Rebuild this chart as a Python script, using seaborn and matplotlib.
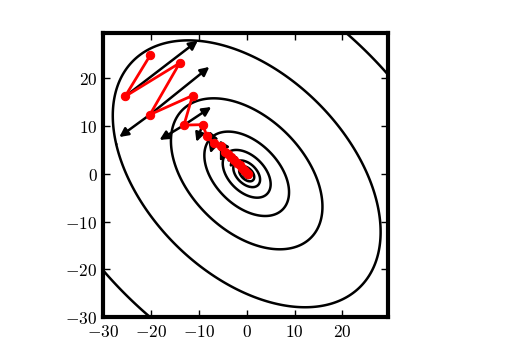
import numpy as np
import matplotlib
matplotlib.use("Agg")
import matplotlib.pyplot as plt
import seaborn as sns
import pandas as pd

# path followed by the optimiser
path_x = [-20.1, -25.4, -14.0, -20.2, -11.3, -13.1, -9.2, -8.3, -6.9, -5.3,
          -4.6, -3.8, -3.2, -2.6, -2.0, -1.5, -1.0, -0.6, -0.3, 0.0, 0.3]
path_y = [24.9, 16.2, 23.2, 12.4, 16.4, 10.2, 10.3, 7.9, 6.5, 5.8,
          4.6, 4.1, 3.5, 2.9, 2.3, 1.8, 1.3, 0.9, 0.5, 0.2, -0.1]

# arrows: start -> tip
arrow_x0 = [-25.4, -20.2, -20.2, -13.1, -13.1, -9.2, -8.3, -6.9, -5.3, -4.6, -3.2, -2.6]
arrow_y0 = [16.2, 12.4, 12.4, 10.2, 10.2, 10.3, 7.9, 6.5, 5.8, 4.6, 3.5, 2.9]
arrow_x1 = [-10.2, -7.8, -26.6, -18.2, -7.4, -10.5, -5.8, -7.6, -3.4, -5.6, -1.6, -3.6]
arrow_y1 = [27.9, 22.4, 7.7, 7.1, 14.0, 6.7, 7.2, 4.3, 5.6, 2.6, 3.3, 1.3]

# quadratic bowl, axes along [1,-1] and [1,1]
semi_major = 33.5
semi_minor = 21.0
levels = [0.001, 0.0032, 0.01, 0.032, 0.1, 0.32, 1.0, 2.9]
ticks = [-30, -20, -10, 0, 10, 20]

sns.set_style("white")
plt.rcParams["mathtext.fontset"] = "cm"

fig = plt.figure(figsize=(5.08, 3.56), dpi=100)
ax = fig.add_axes([103 / 508, 39 / 356, 285 / 508, 284 / 356])

g = np.arange(-30, 30, 0.25)
X, Y = np.meshgrid(g, g)
U = (X - Y) / np.sqrt(2)
V = (X + Y) / np.sqrt(2)
Z = (U / semi_major) ** 2 + (V / semi_minor) ** 2
ax.contour(X, Y, Z, levels=levels, colors="k", linewidths=1.8, zorder=1)

for x0, y0, x1, y1 in zip(arrow_x0, arrow_y0, arrow_x1, arrow_y1):
    ax.annotate("", xy=(x1, y1), xytext=(x0, y0),
                arrowprops=dict(arrowstyle="-|>", color="k", lw=1.8,
                                mutation_scale=13, shrinkA=0, shrinkB=0),
                zorder=3)

df = pd.DataFrame({"x": path_x, "y": path_y})
sns.lineplot(data=df, x="x", y="y", sort=False, color="red", lw=2,
             marker="o", markersize=6, markeredgecolor="red", ax=ax, zorder=4)

ax.set_xlim(-30, 29.5)
ax.set_ylim(-30, 29.5)
ax.set_xticks(ticks)
ax.set_yticks(ticks)
ax.set_xticklabels([f"${t}$" for t in ticks], fontsize=12.5)
ax.set_yticklabels([f"${t}$" for t in ticks], fontsize=12.5)
ax.set_xlabel("")
ax.set_ylabel("")
ax.tick_params(direction="in", length=5, width=1, top=True, right=True,
               bottom=True, left=True, colors="k", pad=4)
for s in ax.spines.values():
    s.set_linewidth(3)
    s.set_color("k")

fig.savefig("out.png", dpi=100)
